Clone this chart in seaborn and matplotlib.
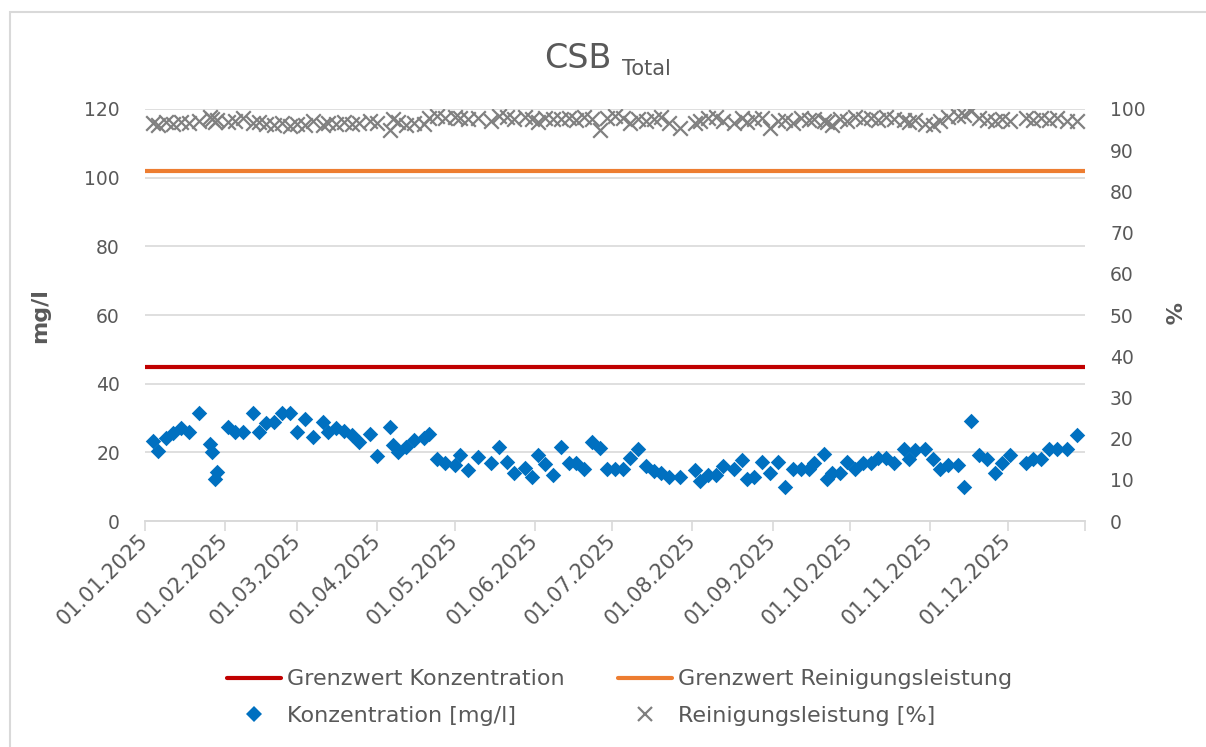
import pandas as pd
import numpy as np
import matplotlib.pyplot as plt
from matplotlib.lines import Line2D
from matplotlib.patches import Rectangle
import seaborn as sns

# Sample dates (day.month, year 2025), grouped by month
dates = ['04.01', '06.01', '09.01', '12.01', '15.01', '18.01', '22.01', '26.01', '27.01', '28.01', '29.01',
         '02.02', '05.02', '08.02', '12.02', '14.02', '17.02', '20.02', '23.02', '26.02',
         '01.03', '04.03', '07.03', '11.03', '13.03', '16.03', '19.03', '22.03', '25.03', '29.03',
         '01.04', '06.04', '07.04', '09.04', '12.04', '15.04', '19.04', '21.04', '24.04', '27.04',
         '01.05', '03.05', '06.05', '10.05', '15.05', '18.05', '21.05', '24.05', '28.05', '31.05',
         '02.06', '05.06', '08.06', '11.06', '14.06', '17.06', '20.06', '23.06', '26.06', '29.06',
         '02.07', '05.07', '08.07', '11.07', '14.07', '17.07', '20.07', '23.07', '27.07',
         '02.08', '04.08', '07.08', '10.08', '13.08', '17.08', '20.08', '22.08', '25.08', '28.08', '31.08',
         '03.09', '06.09', '09.09', '12.09', '15.09', '17.09', '21.09', '22.09', '24.09', '27.09', '30.09',
         '03.10', '06.10', '09.10', '12.10', '15.10', '18.10', '22.10', '24.10', '26.10', '30.10',
         '02.11', '05.11', '08.11', '12.11', '14.11', '17.11', '20.11', '23.11', '26.11', '29.11',
         '02.12', '08.12', '11.12', '14.12', '17.12', '20.12', '24.12', '28.12']

# Concentration in mg/l
konzentration = [23.3, 20.4, 24.2, 25.7, 27.1, 25.9, 31.5, 22.4, 20.1, 12.2, 14.3,
                 27.4, 25.9, 25.9, 31.5, 25.9, 28.6, 28.9, 31.5, 31.5,
                 25.9, 29.7, 24.5, 28.9, 25.9, 27.1, 26.2, 25.1, 23.0, 25.4,
                 18.9, 27.4, 22.2, 20.1, 21.6, 23.6, 24.2, 25.4, 18.1, 16.9,
                 16.3, 19.2, 14.9, 18.7, 16.9, 21.6, 17.2, 14.0, 15.5, 12.8,
                 19.2, 16.6, 13.4, 21.6, 16.9, 16.9, 15.2, 23.0, 21.3, 15.2,
                 15.2, 15.2, 18.4, 21.0, 16.0, 14.6, 14.0, 12.8, 12.8,
                 14.9, 11.7, 13.4, 13.4, 16.0, 15.2, 17.8, 12.2, 12.8, 17.2, 14.0,
                 17.2, 9.9, 15.2, 15.2, 15.2, 16.9, 19.5, 12.2, 14.0, 14.0, 17.2,
                 15.2, 16.9, 16.9, 18.4, 18.4, 16.9, 21.0, 18.1, 20.7, 21.0,
                 18.1, 15.2, 16.3, 16.3, 9.9, 29.2, 19.2, 18.1, 14.0, 16.9,
                 19.2, 16.9, 18.1, 18.1, 21.0, 21.0, 21.0, 25.1]

# Cleaning efficiency in %
reinigung = [96.5, 96.0, 96.8, 96.3, 96.8, 96.5, 97.0, 98.0, 97.5, 96.8, 97.3,
             96.8, 97.2, 97.8, 96.5, 96.8, 96.3, 96.0, 96.5, 95.8,
             96.3, 96.0, 97.0, 96.0, 96.6, 96.3, 96.8, 96.3, 96.6, 97.2,
             96.5, 95.0, 97.5, 96.8, 96.0, 96.5, 96.3, 97.8, 98.2, 97.8,
             98.0, 97.8, 97.5, 97.8, 97.2, 98.2, 98.0, 97.6, 98.0, 97.5,
             96.8, 97.8, 97.5, 97.6, 97.8, 97.4, 98.0, 97.5, 95.0, 97.8,
             98.3, 97.8, 96.5, 97.6, 97.0, 97.6, 98.0, 96.5, 95.4,
             96.5, 97.0, 97.8, 98.0, 97.0, 96.5, 97.8, 96.8, 97.6, 97.8, 95.4,
             97.0, 97.3, 96.5, 97.8, 97.3, 97.6, 97.0, 96.8, 96.2, 97.5, 97.0,
             98.0, 97.6, 97.8, 97.4, 98.0, 97.6, 97.3, 96.8, 97.3, 96.3,
             96.0, 97.2, 98.0, 98.2, 98.5, 99.5, 97.8, 97.3, 97.0, 97.6,
             97.0, 97.8, 97.4, 97.8, 97.3, 97.8, 97.0, 97.2]

# Limit values
grenzwert_konz = 45      # mg/l
grenzwert_rein = 85      # %

df = pd.DataFrame({'datum': pd.to_datetime([d + '.2025' for d in dates], format='%d.%m.%Y'),
                   'konz': konzentration, 'rein': reinigung})

sns.set_theme(style='white')
plt.rcParams['font.family'] = ['DejaVu Sans']
grey_txt = '#595959'

fig = plt.figure(figsize=(12.06, 7.47), dpi=100)
ax = fig.add_axes([0.1202, 0.3025, 0.7795, 0.5516])
ax2 = ax.twinx()

# chart border like excel
fig.patches.append(Rectangle((10 / 1206, -0.1), 1.2, 0.984 + 0.1, transform=fig.transFigure,
                             fill=False, edgecolor='#d9d9d9', lw=1.5, clip_on=False))

# limit lines
ax.axhline(grenzwert_konz, color='#C00000', lw=3, zorder=3)
ax2.axhline(grenzwert_rein, color='#ED7D31', lw=3, zorder=3)

# measurements
sns.scatterplot(data=df, x='datum', y='konz', ax=ax, marker='D', s=62, color='#0070C0',
                linewidth=0, zorder=4, legend=False)
sns.scatterplot(data=df, x='datum', y='rein', ax=ax2, marker='x', s=110, color='#808080',
                linewidth=1.6, zorder=4, legend=False)

# axes setup
start = pd.Timestamp('2025-01-01')
end = pd.Timestamp('2025-12-31')
ax.set_xlim(start, end)
ax.set_ylim(0, 120)
ax2.set_ylim(0, 100)
ax.set_yticks(np.arange(0, 121, 20))
ax2.set_yticks(np.arange(0, 101, 10))

month_ticks = list(pd.date_range(start, periods=12, freq='MS'))
ax.set_xticks(month_ticks + [end])
ax.set_xticklabels([t.strftime('%d.%m.%Y') for t in month_ticks] + [''],
                   rotation=45, ha='right', va='center', rotation_mode='anchor')

ax.grid(axis='y', color='#d9d9d9', lw=1.2)
ax.grid(axis='x', visible=False)
ax2.grid(False)
for a in (ax, ax2):
    for s in ['left', 'right', 'top']:
        a.spines[s].set_visible(False)
    a.spines['bottom'].set_color('#d9d9d9')
    a.spines['bottom'].set_linewidth(1.2)
    a.set_xlabel('')
    a.set_ylabel('')

ax.tick_params(axis='x', bottom=True, length=7, width=1.2, color='#d9d9d9',
               labelsize=15, labelcolor=grey_txt, pad=5)
ax.tick_params(axis='y', length=0, labelsize=13.5, labelcolor=grey_txt, pad=18)
ax2.tick_params(axis='y', length=0, labelsize=13.5, labelcolor=grey_txt, pad=18)

# axis titles
fig.text(0.033, 0.578, 'mg/l', rotation=90, ha='center', va='center',
         fontsize=16, fontweight='bold', color=grey_txt)
fig.text(0.970, 0.581, '%', rotation=270, ha='center', va='center',
         fontsize=16, fontweight='bold', color=grey_txt)

# title with subscript
fig.text(612 / 1206, 1 - 68 / 747, 'CSB', ha='right', va='baseline', fontsize=24, color=grey_txt)
fig.text(622 / 1206, 1 - 75 / 747, 'Total', ha='left', va='baseline', fontsize=15, color=grey_txt)

# legend below the chart
handles = [Line2D([], [], color='#C00000', lw=3),
           Line2D([], [], color='#0070C0', marker='D', ls='', markersize=8, markeredgewidth=0),
           Line2D([], [], color='#ED7D31', lw=3),
           Line2D([], [], color='#808080', marker='x', ls='', markersize=10, markeredgewidth=1.6)]
labels = ['Grenzwert Konzentration', 'Konzentration [mg/l]',
          'Grenzwert Reinigungsleistung', 'Reinigungsleistung [%]']
leg = fig.legend(handles, labels, ncol=2, loc='center', bbox_to_anchor=(0.514, 0.066),
                 frameon=False, fontsize=16, handlelength=2.4, columnspacing=2.4,
                 handletextpad=0.3, labelspacing=0.75)
for t in leg.get_texts():
    t.set_color(grey_txt)

plt.savefig('out.png', dpi=100)
